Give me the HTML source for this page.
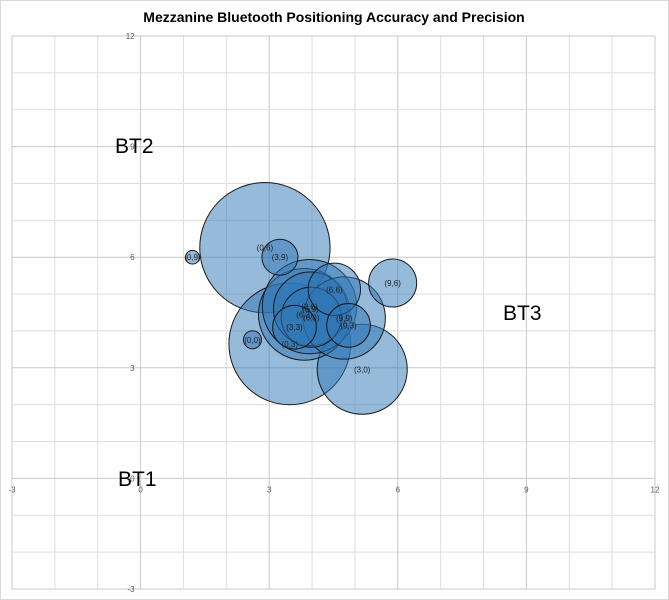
<!DOCTYPE html>
<html><head><meta charset="utf-8"><style>
body{margin:0;background:#fff;font-family:"Liberation Sans",sans-serif}
svg{display:block}
</style></head><body>
<svg id="chart" width="669" height="600" viewBox="0 0 669 600">
<rect x="0.5" y="0.5" width="668" height="599" fill="#fff" stroke="#d9d9d9"/>
<text x="334" y="22" text-anchor="middle" font-size="14" font-weight="bold" fill="#000">Mezzanine Bluetooth Positioning Accuracy and Precision</text>
<g id="grid"></g>
<g id="ticks"></g>
<g id="bubbles"></g>
<g id="labels"></g>
<text x="115" y="153" font-size="21" fill="#000">BT2</text>
<text x="503" y="320" font-size="21" fill="#000">BT3</text>
<text x="118" y="486" font-size="21" fill="#000">BT1</text>
</svg>
<script>
const labels=["(0,6)","(0,3)","(3,0)","(6,3)","(3,6)","(6,9)","(9,9)","(6,0)","(6,6)","(9,6)","(3,3)","(9,3)","(3,9)","(0,0)","(0,9)"];
const xVals=[2.90,3.48,5.17,3.82,3.94,3.96,4.75,3.98,4.52,5.88,3.59,4.85,3.25,2.61,1.21];
const yVals=[6.26,3.65,2.96,4.45,4.66,4.60,4.35,4.37,5.13,5.30,4.10,4.15,6.00,3.76,6.00];
const sizes=[1.52,1.42,1.05,1.07,1.10,0.86,0.96,0.70,0.61,0.56,0.51,0.51,0.42,0.21,0.16];
const ticks=[-3,0,3,6,9,12];
const NS="http://www.w3.org/2000/svg";
const X0=12,X1=655,Y0=589,Y1=36,MIN=-3,MAX=12;
const sx=v=>X0+(v-MIN)/(MAX-MIN)*(X1-X0);
const sy=v=>Y0-(v-MIN)/(MAX-MIN)*(Y0-Y1);
const unitPx=(X1-X0)/(MAX-MIN);
const grid=document.getElementById('grid');
for(let v=MIN;v<=MAX;v++){
  const major=(v%3===0);
  const l1=document.createElementNS(NS,'line');
  l1.setAttribute('x1',sx(v));l1.setAttribute('x2',sx(v));l1.setAttribute('y1',Y1);l1.setAttribute('y2',Y0);
  l1.setAttribute('stroke',major?'#c8c8c8':'#dedede');l1.setAttribute('stroke-width',1);
  
  
  grid.appendChild(l1);
  const l2=document.createElementNS(NS,'line');
  l2.setAttribute('y1',sy(v));l2.setAttribute('y2',sy(v));l2.setAttribute('x1',X0);l2.setAttribute('x2',X1);
  l2.setAttribute('stroke',major?'#c8c8c8':'#dedede');l2.setAttribute('stroke-width',1);
  
  
  grid.appendChild(l2);
}
const tg=document.getElementById('ticks');
ticks.forEach(t=>{
  const a=document.createElementNS(NS,'text');
  a.setAttribute('x',sx(t));a.setAttribute('y',sy(0)+14);a.setAttribute('text-anchor','middle');
  a.setAttribute('font-size','8');a.setAttribute('fill','#595959');a.textContent=t;
  
  
  tg.appendChild(a);
  const b=document.createElementNS(NS,'text');
  b.setAttribute('x',sx(0)-6);b.setAttribute('y',sy(t)+3);b.setAttribute('text-anchor','end');
  b.setAttribute('font-size','8');b.setAttribute('fill','#595959');b.textContent=t;
  
  
  tg.appendChild(b);
});
const bg=document.getElementById('bubbles'),lg=document.getElementById('labels');
xVals.forEach((x,i)=>{
  const c=document.createElementNS(NS,'circle');
  c.setAttribute('cx',sx(x));c.setAttribute('cy',sy(yVals[i]));c.setAttribute('r',sizes[i]*unitPx);
  c.setAttribute('fill','rgba(46,117,182,0.5)');c.setAttribute('stroke','#1a1a1a');c.setAttribute('stroke-width','1');
  
  
  bg.appendChild(c);
  const t=document.createElementNS(NS,'text');
  t.setAttribute('x',sx(x));t.setAttribute('y',sy(yVals[i])+3);t.setAttribute('text-anchor','middle');
  t.setAttribute('font-size','8');t.setAttribute('fill','#222');t.textContent=labels[i];
  
  
  lg.appendChild(t);
});
</script>
</body></html>
